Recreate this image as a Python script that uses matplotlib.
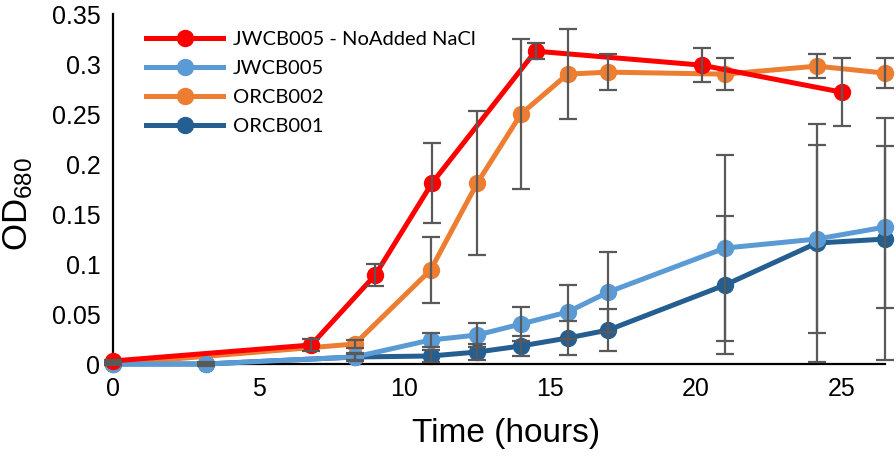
import matplotlib
matplotlib.use('Agg')
import matplotlib.pyplot as plt

plt.rcParams['font.family'] = ['Liberation Sans', 'DejaVu Sans']
plt.rcParams['mathtext.default'] = 'regular'

# Data (time in hours, OD680, +/- error)
t_red = [0, 6.8, 9.0, 10.95, 14.5, 20.2, 25.0]
od_red = [0.003, 0.019, 0.089, 0.181, 0.313, 0.299, 0.272]
err_red = [0.001, 0.006, 0.011, 0.040, 0.008, 0.017, 0.034]

t_lb = [0, 3.2, 8.3, 10.9, 12.5, 14.0, 15.6, 17.0, 21.0, 24.15, 26.5]
od_lb = [0.000, 0.000, 0.007, 0.024, 0.029, 0.040, 0.052, 0.072, 0.116, 0.125, 0.137]
err_lb = [0.001, 0.002, 0.004, 0.007, 0.012, 0.017, 0.027, 0.040, 0.093, 0.094, 0.081]

t_or = [0, 8.3, 10.9, 12.5, 14.0, 15.6, 17.0, 21.0, 24.15, 26.5]
od_or = [0.000, 0.020, 0.094, 0.181, 0.250, 0.290, 0.292, 0.290, 0.298, 0.291]
err_or = [0.001, 0.004, 0.033, 0.072, 0.075, 0.045, 0.018, 0.016, 0.012, 0.015]

t_db = [0, 3.2, 8.3, 10.9, 12.5, 14.0, 15.6, 17.0, 21.0, 24.15, 26.5]
od_db = [0.000, 0.000, 0.007, 0.008, 0.012, 0.018, 0.026, 0.034, 0.079, 0.121, 0.125]
err_db = [0.001, 0.001, 0.003, 0.006, 0.008, 0.010, 0.017, 0.021, 0.069, 0.119, 0.121]

labels = ['JWCB005 - NoAdded NaCl', 'JWCB005', 'ORCB002', 'ORCB001']
colors = ['#FF0000', '#5B9BD5', '#ED7D31', '#255E91']

fig = plt.figure(figsize=(8.96, 4.57), dpi=100)
ax = fig.add_axes([0.126, 0.2035, 0.862, 0.7655])

series = [
    (t_red, od_red, err_red, 5),
    (t_lb, od_lb, err_lb, 4),
    (t_or, od_or, err_or, 3),
    (t_db, od_db, err_db, 2),
]

handles = []
for (t, od, err, z), lab, col in zip(series, labels, colors):
    ln, = ax.plot(t, od, '-o', color=col, lw=3.6, ms=11.5, label=lab,
                  zorder=z, clip_on=False)
    handles.append(ln)
    ax.errorbar(t, od, yerr=err, fmt='none', ecolor='#595959', elinewidth=1.6,
                capsize=6.5, capthick=1.6, zorder=6, clip_on=False)

ax.set_xlim(0, 26.5)
ax.set_ylim(0, 0.35)
ax.set_xticks([0, 5, 10, 15, 20, 25])
ax.set_yticks([0, 0.05, 0.1, 0.15, 0.2, 0.25, 0.3, 0.35])
ax.set_yticklabels(['0', '0.05', '0.1', '0.15', '0.2', '0.25', '0.3', '0.35'])
ax.tick_params(length=0, labelsize=18, pad=9)

for s in ['top', 'right']:
    ax.spines[s].set_visible(False)
for s in ['left', 'bottom']:
    ax.spines[s].set_linewidth(1.6)
    ax.spines[s].set_color('black')

ax.set_xlabel('Time (hours)', fontsize=24)
ax.xaxis.set_label_coords(0.509, -0.155)
fig.text(0.001, 0.554, 'OD$_{680}$', fontsize=25, rotation=90,
         ha='left', va='center')

ax.legend(handles=handles, loc='upper left', bbox_to_anchor=(0.02, 1.005),
          frameon=False, prop={'family': 'Lato', 'size': 14.5},
          handlelength=3.8, handletextpad=0.5, labelspacing=0.6)

fig.savefig('out.png', dpi=100)
